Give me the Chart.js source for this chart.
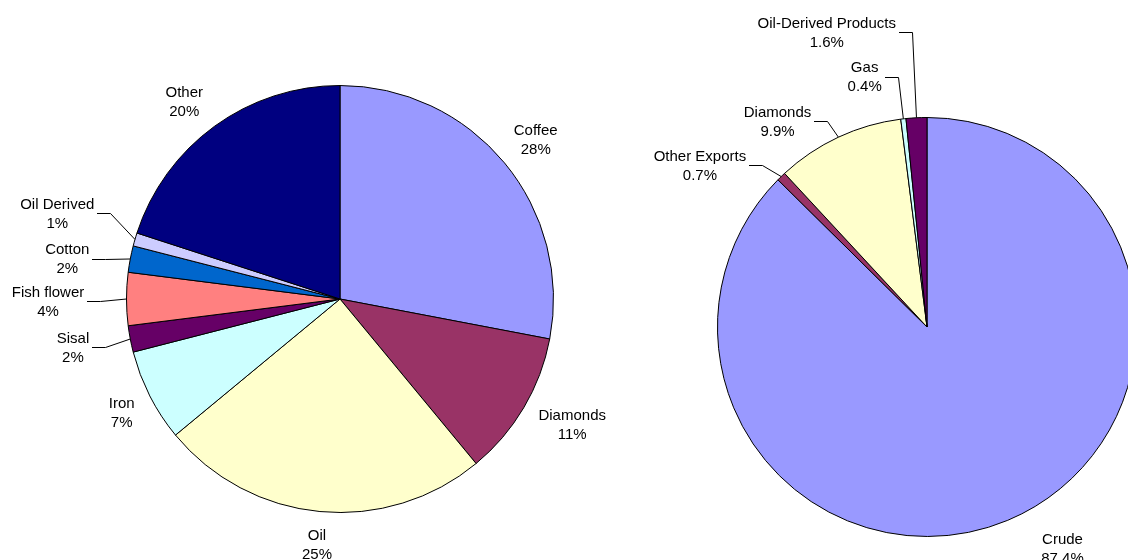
<!DOCTYPE html>
<html>
<head>
<meta charset="utf-8">
<script src="https://cdn.jsdelivr.net/npm/chart.js@4/dist/chart.umd.min.js"></script>
<style>
  body { margin: 0; background: #fff; width: 1128px; height: 560px; overflow: hidden; position: relative; }
  canvas { position: absolute; top: 0; }
  #leftPie { left: 0; }
  #rightPie { left: 620px; }
</style>
</head>
<body>
<canvas id="leftPie" width="620" height="560"></canvas>
<canvas id="rightPie" width="530" height="560"></canvas>
<script>
// left pie: export shares (%)
const leftLabels = ['Coffee', 'Diamonds', 'Oil', 'Iron', 'Sisal', 'Fish flower', 'Cotton', 'Oil Derived', 'Other'];
const leftValues = [28, 11, 25, 7, 2, 4, 2, 1, 20];
const leftColors = ['#9999FF', '#993366', '#FFFFCC', '#CCFFFF', '#660066', '#FF8080', '#0066CC', '#CCCCFF', '#000080'];

// right pie: export shares (%)
const rightLabels = ['Crude', 'Other Exports', 'Diamonds', 'Gas', 'Oil-Derived Products'];
const rightValues = [87.4, 0.7, 9.9, 0.4, 1.6];
const rightColors = ['#9999FF', '#993366', '#FFFFCC', '#CCFFFF', '#660066'];

// label placement: distance from centre, angle nudge (deg), leader line on/off
const leftLabelDist = [254, 263, 244, 245, 271, 292, 276, 296, 253];
const leftLabelShift = [0, -2.6, 0, 0, 1, 0, -2, 1, -2];
const leftLeader = [false, false, false, false, true, true, true, true, false];

const rightLabelDist = [258, 280, 256, 260, 313];
const rightLabelShift = [-9, -10.1, -10.7, -7.4, -15.8];
const rightLeader = [false, true, true, true, true];

const font = '15px "Liberation Sans", Arial, sans-serif';

const sliceLabels = {
  id: 'sliceLabels',
  afterDatasetsDraw(chart, args, opts) {
    const ctx = chart.ctx;
    const meta = chart.getDatasetMeta(0);
    ctx.save();
    ctx.font = font;
    ctx.fillStyle = '#000';
    ctx.strokeStyle = '#000';
    ctx.lineWidth = 1;
    ctx.textAlign = 'center';
    ctx.textBaseline = 'middle';
    meta.data.forEach((arc, i) => {
      const p = arc.getProps(['x', 'y', 'startAngle', 'endAngle', 'outerRadius'], true);
      const mid = (p.startAngle + p.endAngle) / 2;
      const a = mid + opts.shift[i] * Math.PI / 180;
      const lx = p.x + opts.dist[i] * Math.cos(a);
      const ly = p.y + opts.dist[i] * Math.sin(a) + 2;
      const line1 = chart.data.labels[i];
      const line2 = opts.fmt(chart.data.datasets[0].data[i]);
      ctx.fillText(line1, lx, ly - 9.5 + 1);
      ctx.fillText(line2, lx, ly + 9.5 + 1);
      if (opts.leader[i]) {
        const w = Math.max(ctx.measureText(line1).width, ctx.measureText(line2).width);
        const ax = p.x + p.outerRadius * Math.cos(mid);
        const ay = p.y + p.outerRadius * Math.sin(mid);
        const dir = lx < p.x ? 1 : -1;
        const edgeX = lx + dir * (w / 2 + 3);
        let elbowX = edgeX + dir * 13;
        if (Math.abs(ax - edgeX) < 16) elbowX = ax;
        ctx.beginPath();
        ctx.moveTo(Math.round(edgeX), Math.round(ly) + 0.5);
        ctx.lineTo(Math.round(elbowX) + 0.5, Math.round(ly) + 0.5);
        ctx.lineTo(ax, ay);
        ctx.stroke();
      }
    });
    ctx.restore();
  }
};

function pieOptions(pad, labelOpts) {
  return {
    responsive: false,
    animation: false,
    layout: { padding: pad },
    plugins: {
      legend: { display: false },
      tooltip: { enabled: false },
      sliceLabels: labelOpts
    }
  };
}

new Chart(document.getElementById('leftPie'), {
  type: 'pie',
  data: {
    labels: leftLabels,
    datasets: [{
      data: leftValues,
      backgroundColor: leftColors,
      borderColor: '#000',
      borderWidth: 1
    }]
  },
  options: pieOptions({ left: 126, right: 66, top: 85, bottom: 47 }, {
    dist: leftLabelDist,
    shift: leftLabelShift,
    leader: leftLeader,
    fmt: v => v + '%'
  }),
  plugins: [sliceLabels]
});

new Chart(document.getElementById('rightPie'), {
  type: 'pie',
  data: {
    labels: rightLabels,
    datasets: [{
      data: rightValues,
      backgroundColor: rightColors,
      borderColor: '#000',
      borderWidth: 1
    }]
  },
  options: pieOptions({ left: 97, right: 13, top: 117, bottom: 23 }, {
    dist: rightLabelDist,
    shift: rightLabelShift,
    leader: rightLeader,
    fmt: v => v.toFixed(1) + '%'
  }),
  plugins: [sliceLabels]
});
</script>
</body>
</html>
